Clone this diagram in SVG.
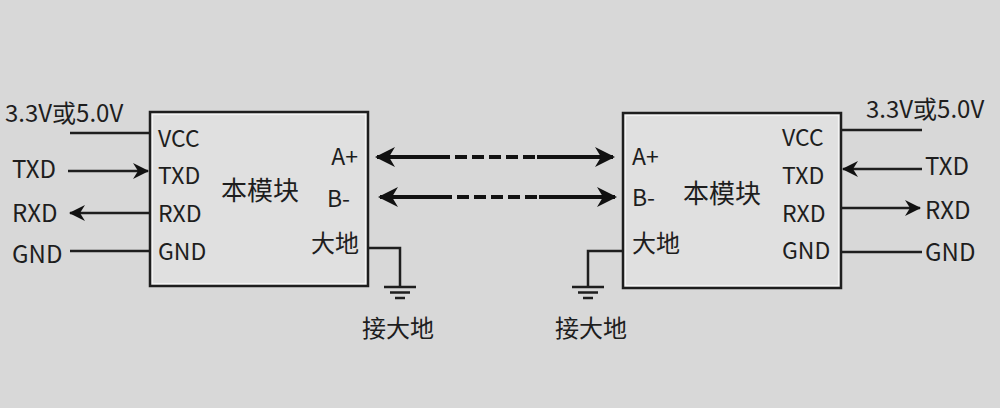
<svg xmlns="http://www.w3.org/2000/svg" width="1000" height="408" viewBox="0 0 1000 408">
<defs>
<marker id="ah" viewBox="0 0 20 20" refX="18" refY="10" markerWidth="20" markerHeight="20" markerUnits="userSpaceOnUse" orient="auto-start-reverse">
<path d="M0,0 L20,10 L0,20 L6,10 Z" fill="#111"/>
</marker>
<marker id="as" viewBox="0 0 16 16" refX="15" refY="8" markerWidth="16" markerHeight="16" markerUnits="userSpaceOnUse" orient="auto-start-reverse">
<path d="M0,0 L16,8 L0,16 L5,8 Z" fill="#111"/>
</marker>
</defs>
<style>
.t{font-family:"Noto Sans CJK SC","Noto Sans",sans-serif;fill:#1e1e1e}
.p{font-size:23px}
.o{font-size:24px}
.box{fill:#e0e0e0;stroke:#1e1e1e;stroke-width:2.5}
.inner{fill:none;stroke:#f4f4f4;stroke-width:1.2}
.w{stroke:#1e1e1e;stroke-width:2.5;fill:none}
.bus{stroke:#111;stroke-width:4;fill:none}
</style>
<rect width="1000" height="408" fill="#d8d8d8"/>
<g id="left-module">
<rect class="box" x="150" y="112" width="218" height="174"/>
<rect class="inner" x="152.5" y="114.5" width="213" height="169"/>
<text class="t p" x="158" y="147">VCC</text>
<text class="t p" x="158" y="184">TXD</text>
<text class="t p" x="158" y="222">RXD</text>
<text class="t p" x="158" y="260">GND</text>
<text class="t" x="221" y="200" font-size="26">本模块</text>
<text class="t p" x="358" y="165" text-anchor="end">A+</text>
<text class="t p" x="350" y="207" text-anchor="end">B-</text>
<text class="t" x="359" y="252" font-size="24" text-anchor="end">大地</text>
</g>
<g id="right-module">
<rect class="box" x="623" y="113" width="218" height="175"/>
<rect class="inner" x="625.5" y="115.5" width="213" height="170"/>
<text class="t p" x="782" y="146">VCC</text>
<text class="t p" x="782" y="184">TXD</text>
<text class="t p" x="782" y="222">RXD</text>
<text class="t p" x="782" y="259">GND</text>
<text class="t" x="683" y="203" font-size="26">本模块</text>
<text class="t p" x="632" y="165">A+</text>
<text class="t p" x="632" y="206">B-</text>
<text class="t" x="632" y="252" font-size="24">大地</text>
</g>
<g id="left-labels">
<text class="t o" x="5" y="122">3.3V或5.0V</text>
<text class="t o" x="12" y="178">TXD</text>
<text class="t o" x="12" y="222">RXD</text>
<text class="t o" x="12" y="263">GND</text>
</g>
<g id="right-labels">
<text class="t o" x="866" y="118">3.3V或5.0V</text>
<text class="t o" x="925" y="175">TXD</text>
<text class="t o" x="925" y="219">RXD</text>
<text class="t o" x="925" y="261">GND</text>
</g>
<g id="left-ground">
<line class="w" x1="384" y1="287" x2="416" y2="287"/>
<line class="w" x1="390" y1="292.5" x2="410" y2="292.5"/>
<line class="w" x1="395" y1="298" x2="405" y2="298"/>
<text class="t" x="362" y="337" font-size="24">接大地</text>
</g>
<g id="right-ground">
<line class="w" x1="572" y1="287" x2="604" y2="287"/>
<line class="w" x1="578" y1="292.5" x2="598" y2="292.5"/>
<line class="w" x1="583" y1="298" x2="593" y2="298"/>
<text class="t" x="555" y="337" font-size="24">接大地</text>
</g>
<g id="connectors">
<line class="w" x1="70" y1="133" x2="150" y2="133"/>
<line class="w" x1="68" y1="171" x2="148" y2="171" marker-end="url(#as)"/>
<line class="w" x1="150" y1="213" x2="70" y2="213" marker-end="url(#as)"/>
<line class="w" x1="70" y1="251" x2="150" y2="251"/>
<polyline class="w" points="368,248 400,248 400,287"/>
<line class="w" x1="841" y1="130" x2="922" y2="130"/>
<line class="w" x1="922" y1="169" x2="843" y2="169" marker-end="url(#as)"/>
<line class="w" x1="841" y1="208" x2="920" y2="208" marker-end="url(#as)"/>
<line class="w" x1="841" y1="252" x2="922" y2="252"/>
<polyline class="w" points="623,251 588,251 588,287"/>
<line class="bus" x1="450" y1="157" x2="377" y2="157" marker-end="url(#ah)"/>
<line class="bus" x1="455" y1="157" x2="535" y2="157" stroke-dasharray="12 5"/>
<line class="bus" x1="537" y1="157" x2="613" y2="157" marker-end="url(#ah)"/>
<line class="bus" x1="452" y1="197" x2="380" y2="197" marker-end="url(#ah)"/>
<line class="bus" x1="457" y1="197" x2="537" y2="197" stroke-dasharray="12 5"/>
<line class="bus" x1="539" y1="197" x2="615" y2="197" marker-end="url(#ah)"/>
</g>
</svg>
